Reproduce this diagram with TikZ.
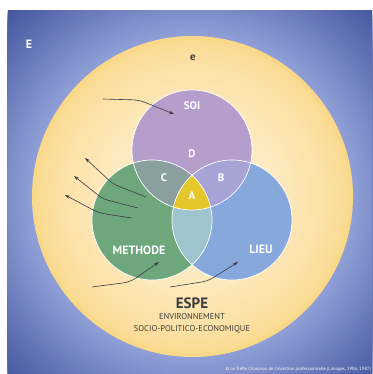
\documentclass[tikz,border=0pt]{standalone}
\usepackage{fontspec}
\setmainfont{PT Sans}
\usepackage{xcolor}
\usetikzlibrary{calc, positioning, arrows.meta}

\definecolor{bgdark}{HTML}{4456A0}
\definecolor{bgglow}{HTML}{8F9FD6}
\definecolor{crin}{HTML}{FEF4DE}
\definecolor{crout}{HTML}{FAD88A}
\definecolor{soicol}{HTML}{B59DCC}
\definecolor{metcol}{HTML}{6EA77B}
\definecolor{lieucol}{HTML}{87A8DA}
\definecolor{ccol}{HTML}{8B9F9E}
\definecolor{bcol}{HTML}{A7A3D6}
\definecolor{lenscol}{HTML}{9EC4CD}
\definecolor{acol}{HTML}{E4C72B}
\definecolor{textgray}{HTML}{3C3C3C}
\definecolor{arrowgray}{HTML}{3A3A44}

\begin{document}
\begin{tikzpicture}
              [x=1pt, y=-1pt, node distance=5pt,
               lbl/.style={text=white, inner sep=0pt, font=\bfseries\fontsize{11}{11}\selectfont},
               dark/.style={text=textgray, inner sep=0pt},
               ptr/.style={-{Stealth[length=5pt, width=3.2pt]}, line width=0.6, draw=arrowgray, rounded corners=6pt},
               rim/.style={draw=white, line width=0.7}]
              % background %
              \useasboundingbox (0,0) rectangle (372,374);
              \fill[white] (0,0) rectangle (372,374);
              \coordinate (env) at (192.5,196.5);
              \begin{scope}
                \clip (7.5,10.5) rectangle (372,374);
                \fill[bgdark] (7.5,10.5) rectangle (372,374);
                \foreach \i in {0,...,40}{
                  \pgfmathsetmacro{\rr}{262-\i*100/40}
                  \pgfmathsetmacro{\pc}{100*\i/40}
                  \fill[bgglow!\pc!bgdark] (env) circle[radius=\rr pt];
                }
              \end{scope}
              \foreach \i in {0,...,40}{
                \pgfmathsetmacro{\rr}{160.5*(1-\i/41)}
                \pgfmathsetmacro{\pc}{100*(\i/40)^0.65}
                \fill[crin!\pc!crout] (env) circle[radius=\rr pt];
              }

              % circles %
              \coordinate (soi) at (192,150);
              \coordinate (met) at (152,220);
              \coordinate (lieu) at (232,220);
              \fill[soicol] (soi) circle[radius=60pt];
              \fill[metcol] (met) circle[radius=60pt];
              \fill[lieucol] (lieu) circle[radius=60pt];
              \begin{scope}
                \clip (met) circle[radius=60pt];
                \fill[lenscol] (lieu) circle[radius=60pt];
              \end{scope}
              \begin{scope}
                \clip (soi) circle[radius=60pt];
                \fill[ccol] (met) circle[radius=60pt];
                \fill[bcol] (lieu) circle[radius=60pt];
                \clip (met) circle[radius=60pt];
                \fill[acol] (lieu) circle[radius=60pt];
              \end{scope}
              \draw[rim] (soi) circle[radius=60pt];
              \draw[rim] (met) circle[radius=60pt];
              \draw[rim] (lieu) circle[radius=60pt];

              % nodes %
              \node[lbl, font=\bfseries\fontsize{12}{12}\selectfont] (bigE) at (29,44) {E};
              \node[dark, font=\bfseries\fontsize{11}{11}\selectfont] (smallE) at (193,58) {e};
              \node[lbl] (soiL) at (192,106) {SOI};
              \node[lbl] (d) at (192,154) {D};
              \node[lbl] (c) at (164,178) {C};
              \node[lbl] (b) at (221,178) {B};
              \node[lbl] (a) at (192,196) {A};
              \node[lbl, font=\bfseries\fontsize{12}{12}\selectfont] (metL) at (139,250) {METHODE};
              \node[lbl, font=\bfseries\fontsize{12}{12}\selectfont] (lieuL) at (261,249) {LIEU};
              \node[dark, font=\bfseries\fontsize{15}{15}\selectfont] (espe) at (192,303) {ESPE};
              \node[dark, below=of espe, font=\fontsize{8.5}{8.5}\selectfont] (env1) {ENVIRONNEMENT};
              \node[dark, below=5pt of env1, font=\fontsize{8.5}{8.5}\selectfont] (env2) {SOCIO-POLITICO-ECONOMIQUE};
              \node[text=white, inner sep=0pt, anchor=east, font=\fontsize{4.6}{4.6}\selectfont] (copy) at (371,369) {© Le Trèfle Chanceux de l'insertion professionnelle (Limoges, 1986, 1987)};

              % edges %
              \coordinate (s1) at (103,99);  \coordinate (k1) at (139,100); \coordinate (t1) at (174,114);
              \coordinate (s2) at (146,197); \coordinate (k2) at (113,184); \coordinate (t2) at (85,158);
              \coordinate (s3) at (138,208); \coordinate (k3) at (103,199); \coordinate (t3) at (74,176);
              \coordinate (s4) at (132,218); \coordinate (k4) at (99,213);  \coordinate (t4) at (65,195);
              \coordinate (s5) at (92,287);  \coordinate (k5) at (130,282); \coordinate (t5) at (159,262);
              \coordinate (s6) at (170,287); \coordinate (k6) at (208,281); \coordinate (t6) at (238,262);
              \draw[ptr] (s1) -- (k1) -- (t1);
              \draw[ptr] (s2) -- (k2) -- (t2);
              \draw[ptr] (s3) -- (k3) -- (t3);
              \draw[ptr] (s4) -- (k4) -- (t4);
              \draw[ptr] (s5) -- (k5) -- (t5);
              \draw[ptr] (s6) -- (k6) -- (t6);
            \end{tikzpicture}
\end{document}
